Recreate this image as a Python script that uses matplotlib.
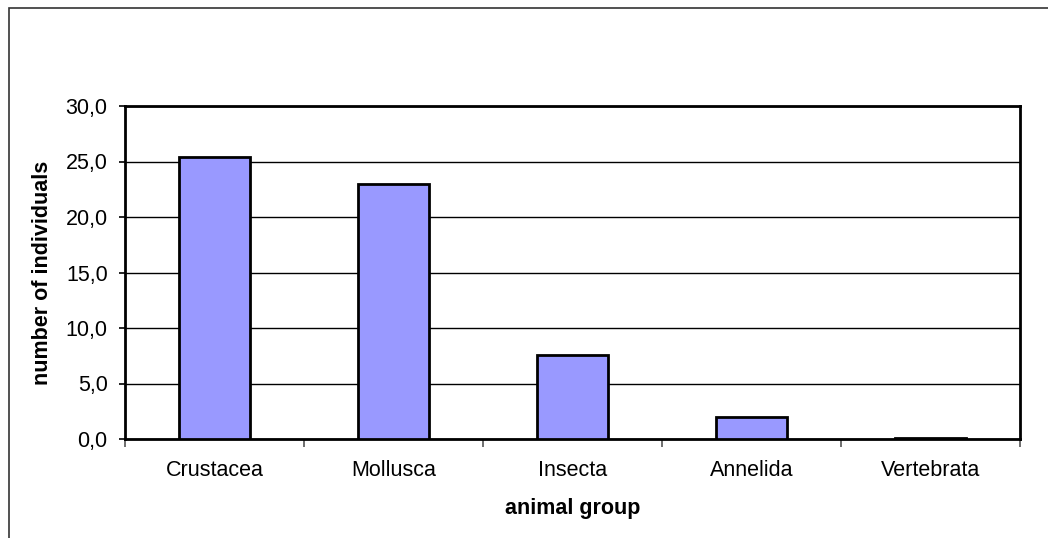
import matplotlib
matplotlib.use("Agg")
import matplotlib.pyplot as plt
from matplotlib.patches import Rectangle
from matplotlib.ticker import FixedLocator, FuncFormatter
import numpy as np

categories = ["Crustacea", "Mollusca", "Insecta", "Annelida", "Vertebrata"]
individuals = [25.4, 23.0, 7.6, 2.0, 0.1]
y_ticks = [0, 5, 10, 15, 20, 25, 30]

plt.rcParams["font.family"] = ["Liberation Sans", "DejaVu Sans"]

W, H = 1048, 538
fig = plt.figure(figsize=(W / 100, H / 100), dpi=100)

# outer chart frame (only left and top edges fall inside the canvas)
frame = Rectangle((9 / W, -0.1), 1.2, 1 - 7.5 / H + 0.1, transform=fig.transFigure,
                  fill=False, edgecolor="#333333", linewidth=1.2)
fig.patches.append(frame)

ax_left, ax_right, ax_top, ax_bottom = 125, 1020, 106, 439
ax = fig.add_axes([ax_left / W, 1 - ax_bottom / H,
                   (ax_right - ax_left) / W, (ax_bottom - ax_top) / H])

x = np.arange(len(categories))
ax.bar(x, individuals, width=0.4, color="#9999FF", edgecolor="black",
       linewidth=2, zorder=3)

ax.set_xlim(-0.5, len(categories) - 0.5)
ax.set_ylim(0, 30)
ax.set_yticks(y_ticks)
ax.yaxis.set_major_formatter(FuncFormatter(lambda v, p: f"{v:.1f}".replace(".", ",")))
ax.grid(axis="y", color="black", linewidth=1, zorder=0)
ax.set_axisbelow(True)

fs = 15.5
ax.set_xticks(x)
ax.set_xticklabels(categories)
ax.xaxis.set_minor_locator(FixedLocator(np.arange(-0.5, len(categories), 1.0)))
ax.tick_params(axis="x", which="major", length=0, pad=15, labelsize=fs)
ax.tick_params(axis="x", which="minor", length=5.5, width=1.2, color="#555555")
ax.tick_params(axis="y", length=4.5, width=1.2, labelsize=fs, pad=8)

for s in ax.spines.values():
    s.set_linewidth(2)
    s.set_color("black")

ax_w = ax_right - ax_left
ax_h = ax_bottom - ax_top
ax.set_xlabel("animal group", fontsize=fs, fontweight="bold")
ax.xaxis.set_label_coords(0.5, (ax_bottom - 498) / ax_h)
ax.set_ylabel("number of individuals", fontsize=fs, fontweight="bold")
ax.yaxis.set_label_coords((53 - ax_left) / ax_w, 0.5)

fig.savefig("out.png", dpi=100, facecolor="white")
